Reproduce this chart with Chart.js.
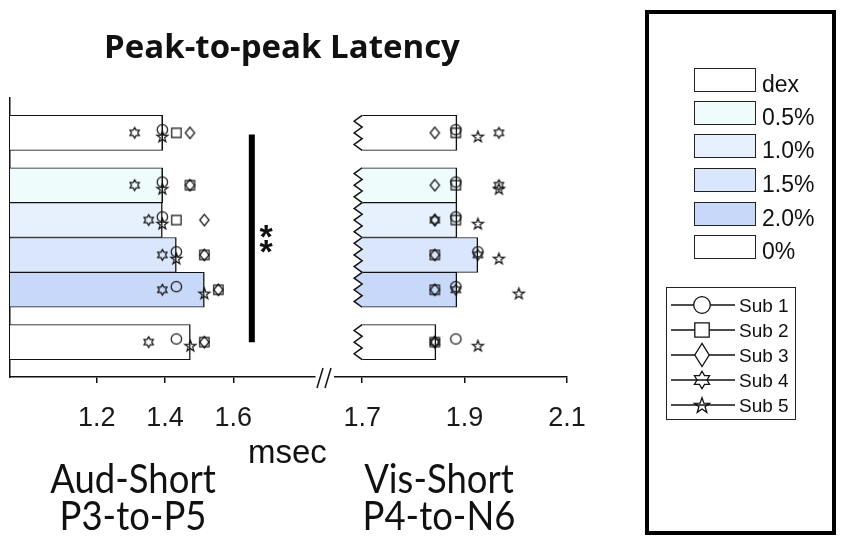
<!DOCTYPE html>
<html>
<head>
<meta charset="utf-8">
<script src="https://cdn.jsdelivr.net/npm/chart.js@4.4.0/dist/chart.umd.min.js"></script>
<style>
  html, body { margin: 0; padding: 0; background: #fff; }
  #page { position: relative; width: 851px; height: 550px; overflow: hidden; font-family: "Liberation Sans", Arial, sans-serif; color: #111; }
  .layer { position: absolute; left: 0; top: 0; }
  .txt { position: absolute; white-space: nowrap; line-height: 1; }
  .cond { position: absolute; width: 240px; text-align: center; font-family: Lato, "Open Sans", sans-serif; font-size: 41px; line-height: 37px; transform: scaleX(0.89); transform-origin: 50% 50%; }
  #legendBox { position: absolute; left: 645px; top: 10px; width: 183px; height: 517px; border: 4px solid #000; }
  .sw { position: absolute; left: 694px; width: 60px; height: 22px; border: 1.5px solid #222; }
  .swl { position: absolute; left: 762px; font-size: 23px; line-height: 1; }
  #subBox { position: absolute; left: 666px; top: 287px; width: 128px; height: 131px; border: 1.5px solid #222; }
  .lm { position: absolute; left: 670px; }
  .sl { position: absolute; left: 739px; font-size: 19px; line-height: 1; }
</style>
</head>
<body>
<div id="page">
  <canvas id="audChart" class="layer" width="851" height="550"></canvas>
  <canvas id="visChart" class="layer" width="851" height="550"></canvas>

  <div class="txt" style="left:82px;width:400px;text-align:center;top:29px;font-family:'Open Sans',Lato,sans-serif;font-weight:700;font-size:33px;">Peak-to-peak Latency</div>
  <div class="txt" style="left:255px;width:22px;text-align:center;top:229px;font-size:34px;line-height:15px;font-weight:700;">*<br>*</div>
  <div class="txt" style="left:248px;top:435px;font-size:33px;">msec</div>
  <div class="cond" style="left:13px;top:459px;">Aud-Short<br>P3-to-P5</div>
  <div class="cond" style="left:319px;top:459px;">Vis-Short<br>P4-to-N6</div>

  <div id="legendBox"></div>
  <div id="fillLegend"></div>
  <div id="subBox"></div>
  <div id="subLegend"></div>
</div>

<script>
// ---- data (msec) ----
const categories = ['dex', '0.5%', '1.0%', '1.5%', '2.0%', '0%'];
const subjectNames = ['Sub 1', 'Sub 2', 'Sub 3', 'Sub 4', 'Sub 5'];

const audMean = [1.393, 1.393, 1.392, 1.433, 1.515, 1.474];
const audSub1 = [1.392, 1.392, 1.392, 1.433, 1.433, 1.433];
const audSub2 = [1.433, 1.473, 1.433, 1.515, 1.556, 1.515];
const audSub3 = [1.473, 1.473, 1.515, 1.515, 1.556, 1.515];
const audSub4 = [1.311, 1.311, 1.352, 1.392, 1.392, 1.352];
const audSub5 = [1.392, 1.392, 1.392, 1.433, 1.515, 1.474];

const visMean = [1.885, 1.885, 1.885, 1.926, 1.885, 1.844];
const visSub1 = [1.883, 1.883, 1.883, 1.926, 1.883, 1.883];
const visSub2 = [1.883, 1.883, 1.883, 1.842, 1.842, 1.842];
const visSub3 = [1.842, 1.842, 1.842, 1.842, 1.842, 1.842];
const visSub4 = [1.967, 1.967, 1.842, 1.926, 1.883, 1.842];
const visSub5 = [1.926, 1.967, 1.926, 1.967, 2.006, 1.926];

const audTicks = [1.2, 1.4, 1.6];
const visTicks = [1.7, 1.9, 2.1];
const visBreak = 1.7;   // right panel bars start at the axis break

// ---- layout / style ----
const slot = [0, 1.5, 2.5, 3.5, 4.5, 6];      // row centres on the y scale
const jitter = [-0.09, 0, 0, 0, 0.1];          // small vertical offset per subject
const fillColors = ['#ffffff', '#effcfc', '#e7f1fd', '#d9e6fc', '#c8d8f8', '#ffffff'];
const shapes = ['circle', 'square', 'diamond', 'hexagram', 'pentagram'];
const ink = '#111';
const tickFont = { family: '"Liberation Sans", Arial, sans-serif', size: 27 };

function tracePath(g, shape, cx, cy, s, tall) {
  g.beginPath();
  if (shape === 'circle') {
    g.arc(cx, cy, s, 0, Math.PI * 2);
  } else if (shape === 'square') {
    g.rect(cx - s * 0.9, cy - s * 0.9, s * 1.8, s * 1.8);
  } else if (shape === 'diamond') {
    const h = s * (tall || 1.1);
    g.moveTo(cx, cy - h); g.lineTo(cx + s * 0.9, cy); g.lineTo(cx, cy + h); g.lineTo(cx - s * 0.9, cy);
    g.closePath();
  } else {
    const n = shape === 'hexagram' ? 6 : 5;
    const R = shape === 'hexagram' ? s * 1.04 : s * 1.12;
    const r = shape === 'hexagram' ? R / Math.sqrt(3) : R * 0.4;
    const dy = shape === 'pentagram' ? R * 0.1 : 0;
    for (let i = 0; i < 2 * n; i++) {
      const a = -Math.PI / 2 + i * Math.PI / n;
      const rr = i % 2 ? r : R;
      const px = cx + rr * Math.cos(a), py = cy + dy + rr * Math.sin(a);
      if (i === 0) g.moveTo(px, py); else g.lineTo(px, py);
    }
    g.closePath();
  }
}

function marker(shape, s) {
  const c = document.createElement('canvas');
  const size = Math.ceil(s * 2.8) + 4;
  c.width = c.height = size;
  const g = c.getContext('2d');
  g.lineWidth = 1.2;
  g.strokeStyle = ink;
  tracePath(g, shape, size / 2, size / 2, s);
  g.stroke();
  return c;
}
const plotMarkers = shapes.map(sh => marker(sh, 5.2));

function buildDatasets(means, subs, base) {
  const bars = {
    type: 'bar', indexAxis: 'y', order: 10,
    data: means.map((v, i) => ({ x: base == null ? v : [base, v], y: slot[i] })),
    backgroundColor: fillColors,
    borderColor: ink,
    borderWidth: { top: 1, right: 1.5, bottom: 1, left: 0 },
    borderSkipped: 'start',
    barPercentage: 1, categoryPercentage: 1
  };
  const pts = subs.map((vals, k) => ({
    type: 'scatter', label: subjectNames[k], order: 0,
    data: vals.map((v, i) => ({ x: v, y: slot[i] + jitter[k] })),
    pointStyle: plotMarkers[k], pointRadius: 6, showLine: false
  }));
  return [bars].concat(pts);
}

// the x scale box is given the whole strip under the plot so its labels are not clipped
function buildOptions(ticks, min, max, pad, showY) {
  return {
    responsive: false, animation: false, events: [],
    layout: { padding: pad },
    plugins: { legend: { display: false }, tooltip: { enabled: false } },
    scales: {
      x: {
        type: 'linear', min: min, max: max, offset: false, beginAtZero: false,
        afterFit: s => { s.height = 550 - 377; },
        afterBuildTicks: s => { s.ticks = ticks.map(v => ({ value: v })); },
        grid: { display: true, offset: false, drawOnChartArea: false, drawTicks: true, tickLength: 6, color: ink, lineWidth: 1.5 },
        border: { display: true, color: ink, width: 1.5 },
        ticks: { color: '#1a1a1a', font: tickFont, padding: 19, maxRotation: 0, autoSkip: false,
                 callback: v => Number(v).toFixed(1) }
      },
      y: {
        type: 'linear', min: -1, max: 7, reverse: true, display: showY, offset: false,
        afterFit: s => { s.width = 0; },
        grid: { display: false, offset: false },
        border: { display: true, color: ink, width: 1.5 },
        ticks: { display: false, stepSize: 1 }
      }
    }
  };
}

// significance bar and the axis break marks
const sigAt = 1.654, sigFrom = 0.05, sigTo = 6;
const sigPlugin = {
  id: 'sig',
  afterDraw(chart) {
    const { ctx, scales: { x, y }, chartArea } = chart;
    ctx.save();
    ctx.strokeStyle = '#000';
    ctx.lineWidth = 6;
    const px = x.getPixelForValue(sigAt);
    ctx.beginPath();
    ctx.moveTo(px, y.getPixelForValue(sigFrom));
    ctx.lineTo(px, y.getPixelForValue(sigTo));
    ctx.stroke();
    ctx.lineWidth = 1.5;
    ctx.strokeStyle = ink;
    const b = chartArea.bottom, r = chartArea.right;
    [2, 10].forEach(dx => {
      ctx.beginPath();
      ctx.moveTo(r + dx, b + 11);
      ctx.lineTo(r + dx + 6, b - 9);
      ctx.stroke();
    });
    ctx.restore();
  }
};

// zig-zag left edge of the right panel bars
const zig = [[-8, 1 / 6], [0, 2 / 6], [-8, 3 / 6], [0, 4 / 6], [-8, 5 / 6], [0, 1]];
const zigPlugin = {
  id: 'zig',
  afterDatasetDraw(chart, args) {
    if (args.meta.type !== 'bar') return;
    const ctx = chart.ctx;
    args.meta.data.forEach((bar, i) => {
      const { base, y, height } = bar.getProps(['base', 'y', 'height'], true);
      const top = y - height / 2;
      const path = () => {
        ctx.beginPath();
        ctx.moveTo(base, top);
        zig.forEach(([dx, t]) => ctx.lineTo(base + dx, top + t * height));
      };
      ctx.save();
      path(); ctx.closePath();
      ctx.fillStyle = fillColors[i]; ctx.fill();
      path();
      ctx.strokeStyle = ink; ctx.lineWidth = 1.5; ctx.lineJoin = 'miter'; ctx.stroke();
      ctx.restore();
    });
  }
};

new Chart(document.getElementById('audChart'), {
  type: 'bar',
  data: { labels: categories, datasets: buildDatasets(audMean, [audSub1, audSub2, audSub3, audSub4, audSub5], null) },
  options: buildOptions(audTicks, 0.946, 1.839, { left: 10, top: 98, right: 851 - 315, bottom: 0 }, true),
  plugins: [sigPlugin]
});

new Chart(document.getElementById('visChart'), {
  type: 'bar',
  data: { labels: categories, datasets: buildDatasets(visMean, [visSub1, visSub2, visSub3, visSub4, visSub5], visBreak) },
  options: buildOptions(visTicks, 1.647, 2.1, { left: 335, top: 98, right: 851 - 567, bottom: 0 }, false),
  plugins: [zigPlugin]
});

// ---- legends ----
const fillLegend = document.getElementById('fillLegend');
const rowTop = [68, 101, 134, 168, 202, 235];
categories.forEach((c, i) => {
  const sw = document.createElement('div');
  sw.className = 'sw';
  sw.style.top = rowTop[i] + 'px';
  sw.style.background = fillColors[i];
  fillLegend.appendChild(sw);
  const l = document.createElement('div');
  l.className = 'swl';
  l.style.top = (rowTop[i] + 5) + 'px';
  l.textContent = c;
  fillLegend.appendChild(l);
});

const subLegend = document.getElementById('subLegend');
const legendSize = [8.3, 8, 8, 8.4, 7.2];
subjectNames.forEach((name, k) => {
  const cy = 305 + k * 25;
  const c = document.createElement('canvas');
  c.className = 'lm';
  c.width = 68; c.height = 28;
  c.style.top = (cy - 14) + 'px';
  const g = c.getContext('2d');
  g.strokeStyle = ink; g.lineWidth = 1.3;
  g.beginPath(); g.moveTo(1, 14); g.lineTo(65, 14); g.stroke();
  tracePath(g, shapes[k], 32, 14, legendSize[k], 1.45);
  g.fillStyle = '#fff';
  if (k < 3) g.fill();
  g.stroke();
  subLegend.appendChild(c);
  const t = document.createElement('div');
  t.className = 'sl';
  t.style.top = (cy - 9) + 'px';
  t.textContent = name;
  subLegend.appendChild(t);
});
</script>
</body>
</html>
